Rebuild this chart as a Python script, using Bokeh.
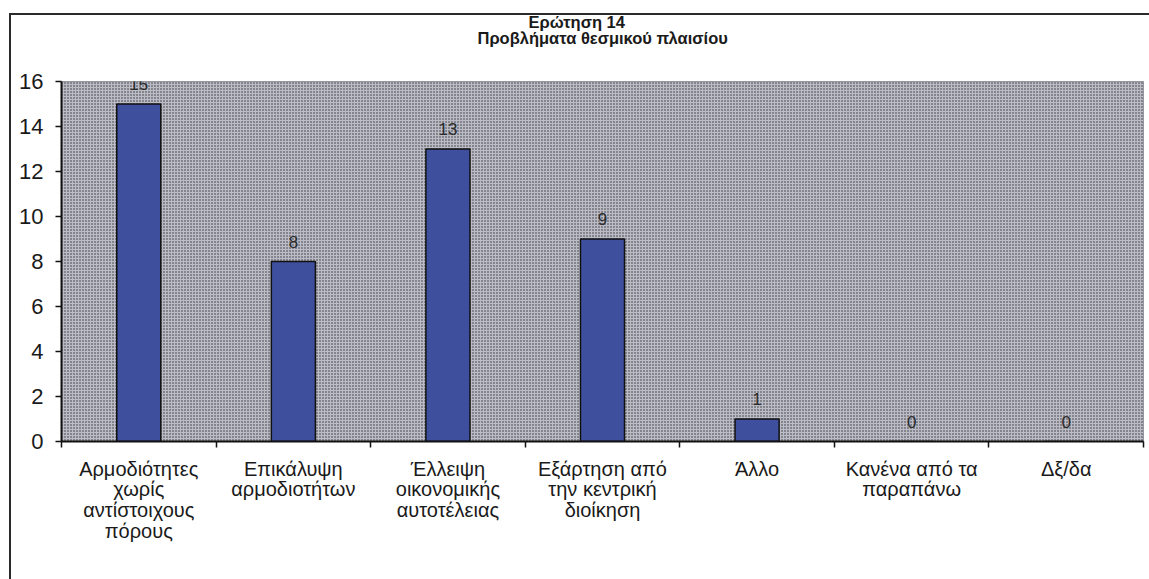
from bokeh.plotting import figure
from bokeh.models import (ColumnDataSource, FixedTicker, LabelSet, Title, BoxAnnotation, Range1d)
from bokeh.core.properties import value
from bokeh.embed import file_html
from bokeh.resources import INLINE

# ---- data ----
categories = [
    "Αρμοδιότητες\nχωρίς\nαντίστοιχους\nπόρους",
    "Επικάλυψη\nαρμοδιοτήτων",
    "Έλλειψη\nοικονομικής\nαυτοτέλειας",
    "Εξάρτηση από\nτην κεντρική\nδιοίκηση",
    "Άλλο",
    "Κανένα από τα\nπαραπάνω",
    "Δξ/δα",
]
values = [15, 8, 13, 9, 1, 0, 0]
y_ticks = [0, 2, 4, 6, 8, 10, 12, 14, 16]
title_line1 = "Ερώτηση 14"
title_line2 = "Προβλήματα θεσμικού πλαισίου"

n = len(categories)
xs = [i + 0.5 for i in range(n)]
src = ColumnDataSource(dict(x=xs, v=values, lab=[str(v) for v in values]))

FONT = "Liberation Sans"

p = figure(width=1149, height=579, output_backend="svg", toolbar_location=None,
           x_range=Range1d(0, n), y_range=Range1d(0, 16),
           min_border_left=61, min_border_right=6, min_border_top=81, min_border_bottom=138,
           background_fill_color="#bcbcc6", border_fill_color="white", border_fill_alpha=0.0,
           outline_line_color="#8a8a90", outline_line_width=1)
# page frame lines (top and left) drawn behind the transparent canvas border
p.styles = {
    "background": ("linear-gradient(#2a2a2a,#2a2a2a) 9px 13px / 2px calc(100% - 13px) no-repeat, "
                   "linear-gradient(#2a2a2a,#2a2a2a) 9px 13px / calc(100% - 9px) 2px no-repeat, "
                   "white"),
}

p.xgrid.visible = False
p.ygrid.visible = False

# dotted plot-area pattern
bg = BoxAnnotation(fill_color="#bcbcc6", fill_alpha=1.0, hatch_pattern="dot",
                   hatch_color="#2e2e36", hatch_scale=3, hatch_weight=1.8,
                   line_color=None, level="underlay")
p.add_layout(bg)

p.vbar(x="x", top="v", width=0.285, source=src, fill_color="#3e4f9e",
       line_color="#111111", line_width=1.5)

labels = LabelSet(x="x", y="v", text="lab", source=src, y_offset=20,
                  text_align="center", text_baseline="middle",
                  text_font=value(FONT), text_font_size=value("17px"),
                  text_color=value("#2a2a2a"))
p.add_layout(labels)

# x axis
xa = p.xaxis[0]
xa.ticker = FixedTicker(ticks=xs, minor_ticks=list(range(n + 1)))
xa.major_label_overrides = {x: c for x, c in zip(xs, categories)}
xa.major_tick_line_color = None
xa.major_tick_out = 0
xa.major_tick_in = 0
xa.minor_tick_line_color = "#111111"
xa.minor_tick_line_width = 1.5
xa.minor_tick_out = 6
xa.minor_tick_in = 0
xa.axis_line_color = "#111111"
xa.axis_line_width = 2
xa.major_label_text_font = FONT
xa.major_label_text_font_size = "20px"
xa.major_label_text_color = "#1a1a1a"
xa.major_label_text_line_height = 0.95
xa.major_label_standoff = 10

# y axis
ya = p.yaxis[0]
ya.ticker = FixedTicker(ticks=y_ticks)
ya.minor_tick_line_color = None
ya.major_tick_out = 6
ya.major_tick_in = 0
ya.major_tick_line_color = "#111111"
ya.major_tick_line_width = 1.5
ya.axis_line_color = "#111111"
ya.axis_line_width = 2
ya.major_label_text_font = FONT
ya.major_label_text_font_size = "22px"
ya.major_label_text_color = "#1a1a1a"
ya.major_label_standoff = 12

# title: spacer (closest to plot), then line 2, then line 1
spacer = Title(text=" ", text_font_size="1px", standoff=31.5)
t2 = Title(text=title_line2, align="left", offset=416, standoff=0,
           text_font=FONT, text_font_size="16.5px", text_font_style="bold",
           text_color="#1a1a1a")
t1 = Title(text=title_line1, align="left", offset=467, standoff=-9,
           text_font=FONT, text_font_size="16.5px", text_font_style="bold",
           text_color="#1a1a1a")
p.add_layout(spacer, "above")
p.add_layout(t2, "above")
p.add_layout(t1, "above")

open("out.html", "w").write(file_html(p, INLINE))
